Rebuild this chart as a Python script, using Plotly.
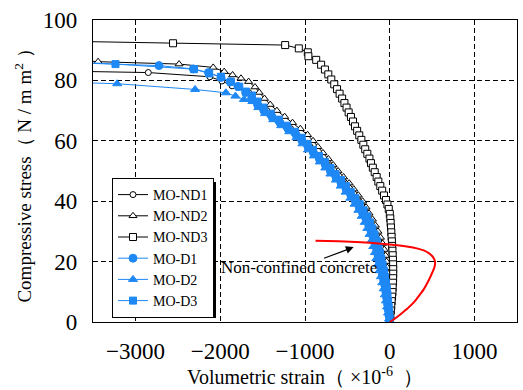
import plotly.graph_objects as go

# ---------------- data (volumetric strain x1e-6, compressive stress N/mm2) ----------------
nd1_x = [-3700, -2848, -2122, -1980, -1860, -1665, -1560, -1450, -1315, -1170, -1045, -940, -840,
         -735, -640, -550, -465, -380, -315, -255, -205, -170, -140, -115, -90, -65, -45, -25, -12, -5, 0]
nd1_y = [83.0, 82.6, 81.2, 79.8, 78.2, 76, 73, 70, 67, 64, 61, 58, 55,
         52, 49, 46, 43, 40, 37, 34, 31, 28, 25, 22, 19, 16, 13, 10, 7, 4, 0]

nd2_x = [-3700, -3440, -2485, -2083, -1953, -1854, -1755, -1665, -1590, -1540, -1478, -1410, -1332,
         -1240, -1147, -1055, -970, -905, -848, -788, -725, -668, -610, -545, -480, -425, -372, -320,
         -280, -245, -205, -170, -140, -110, -85, -65, -50, -38, -28, -20, -14, -9, -5, -2, 0, 2, 2, 0]
nd2_y = [86.7, 86.2, 85.4, 84.3, 82.9, 81.8, 80.7, 79.6, 77.8, 76, 74, 72, 70,
         68, 66, 64, 62, 60, 58, 56, 54, 52, 50, 48, 46, 44, 42, 40,
         38, 36, 34, 32, 30, 28, 26, 24, 22, 20, 18, 16, 14, 12, 10, 8, 6, 4, 2, 0]

nd3_x = [-3700, -2556, -1234, -1073, -967, -960, -868, -810, -765, -725, -690, -655, -622, -592,
         -562, -535, -510, -485, -458, -434, -410, -385, -360, -335, -312, -290, -265, -240, -222,
         -200, -178, -155, -135, -112, -90, -68, -45, -28, -12, 0, 6, 10, 14, 18, 21, 25, 28, 31,
         34, 37, 39, 40, 40, 39, 37, 34, 31, 27, 22, 17, 12, 7, 2, 0]
nd3_y = [92.9, 92.3, 91.7, 90.6, 89.3, 88.0, 86.8, 85.2, 83.6, 82.0, 80.3, 78.7, 77.1, 75.6,
         74.0, 72.5, 71.0, 69.4, 67.9, 66.4, 64.8, 63.3, 61.8, 60.3, 58.7, 57.2, 55.7, 54.1, 52.6,
         51.1, 49.6, 48.0, 46.5, 45.0, 43.5, 41.9, 40.4, 38.9, 37.4, 35.8, 34.3, 32.8, 31.3, 29.7,
         28.2, 26.7, 25.2, 23.6, 22.1, 20.6, 19.1, 17.5, 16.0, 14.5, 13.0, 11.4, 9.9, 8.4, 6.9,
         5.3, 3.8, 2.3, 0.8, 0]

d1_x = [-3700, -2722, -2316, -2138, -1990, -1880, -1790, -1700, -1630, -1560, -1485, -1390, -1295,
        -1200, -1105, -1035, -965, -900, -830, -760, -700, -635, -575, -515, -460, -405, -360, -320,
        -280, -248, -220, -195, -175, -155, -138, -122, -105, -88, -73, -58, -47, -37, -27, -18, -9, 0]
d1_y = [85.8, 84.9, 83.8, 82.6, 81.0, 79.5, 78.0, 76, 74, 72, 70, 68, 66,
        64, 62, 60, 58, 56, 54, 52, 50, 48, 46, 44, 42, 40, 38, 36,
        34, 32, 30, 28, 26, 24, 22, 20, 18, 16, 14, 12, 10, 8, 6, 4, 2, 0]

d2_x = [-3700, -3215, -2296, -1933, -1820, -1720, -1620, -1550, -1470, -1375, -1280, -1185, -1100,
        -1030, -965, -895, -825, -760, -700, -635, -578, -520, -465, -415, -370, -330, -295, -265,
        -238, -215, -195, -175, -158, -140, -122, -105, -88, -72, -58, -45, -32, -20, -8, 0]
d2_y = [79.3, 78.9, 77.0, 75.9, 74.8, 73.7, 73, 71, 69, 67, 65, 63, 61,
        59, 57, 55, 53, 51, 49, 47, 45, 43, 41, 39, 37, 35, 33, 31,
        29, 27, 25, 23, 21, 19, 17, 15, 13, 11, 9, 7, 5, 3, 1, 0]

d3_x = [-3700, -3235, -2308, -2130, -1992, -1874, -1775, -1696, -1625, -1560, -1490, -1405, -1310,
        -1215, -1120, -1040, -970, -905, -835, -765, -700, -640, -575, -515, -460, -405, -355, -310,
        -270, -235, -205, -180, -155, -135, -115, -100, -85, -70, -57, -45, -35, -27, -20, -13, -7, -2, 0]
d3_y = [86.0, 85.4, 83.7, 82.3, 81.2, 79.6, 77.9, 76.3, 75, 73, 71, 69, 67,
        65, 63, 61, 59, 57, 55, 53, 51, 49, 47, 45, 43, 41, 39, 37,
        35, 33, 31, 29, 27, 25, 23, 21, 19, 17, 15, 13, 11, 9, 7, 5, 3, 1, 0]

nc_x = [-876, -600, -400, -200, 0, 200, 330, 400, 460, 510, 533, 528, 500, 450, 400, 355, 280, 197, 120, 50, 0]
nc_y = [26.9, 26.7, 26.5, 26.2, 25.7, 25.0, 24.3, 23.7, 22.8, 21.5, 20.0, 18.3, 16.3, 13.3, 10.8, 9.1, 6.4, 4.2, 2.4, 0.9, 0]

x_ticks = [-3000, -2000, -1000, 0, 1000]
y_ticks = [0, 20, 40, 60, 80, 100]

BLUE = "#1e88f5"
SERIF = "Liberation Serif, Times New Roman, serif"

fig = go.Figure()

def add(name, xs, ys, color, symbol, size, fill):
    fig.add_trace(go.Scatter(
        x=xs, y=ys, name=name, mode="lines+markers",
        line=dict(color=color, width=1),
        marker=dict(symbol=symbol, size=size, color=fill,
                    line=dict(color=color, width=1)),
    ))

add("MO-ND1", nd1_x, nd1_y, "black", "circle", 6, "white")
add("MO-ND2", nd2_x, nd2_y, "black", "triangle-up", 7, "white")
add("MO-ND3", nd3_x, nd3_y, "black", "square", 7, "white")
add("MO-D1", d1_x, d1_y, BLUE, "circle", 8, BLUE)
add("MO-D2", d2_x, d2_y, BLUE, "triangle-up", 8, BLUE)
add("MO-D3", d3_x, d3_y, BLUE, "square", 7, BLUE)

fig.add_trace(go.Scatter(x=nc_x, y=nc_y, mode="lines", showlegend=False,
                         line=dict(color="red", width=2, shape="spline")))

axis_common = dict(
    showline=True, mirror=True, linecolor="black", linewidth=1.2,
    showgrid=True, gridcolor="black", griddash="5px,3px", gridwidth=1,
    zeroline=False, ticks="", tickfont=dict(family=SERIF, size=23, color="black"),
)

fig.update_xaxes(range=[-3500, 1500], tickvals=x_ticks, ticklabelstandoff=8,
                 title=dict(text="Volumetric strain（ ×10<sup>-6</sup>  ）",
                            font=dict(family=SERIF, size=20, color="black"), standoff=4),
                 **axis_common)
fig.update_yaxes(range=[0, 100], tickvals=y_ticks, ticklabelstandoff=10,
                 title=dict(text="Compressive stress（ N / m m<sup>2</sup> ）",
                            font=dict(family=SERIF, size=19, color="black"), standoff=6),
                 **axis_common)

fig.add_annotation(x=-1065, y=18.2, text="Non-confined concrete", showarrow=False,
                   font=dict(family=SERIF, size=17, color="black"))
fig.add_annotation(x=-426, y=24.8, ax=-793, ay=20.9, axref="x", ayref="y", text="",
                   showarrow=True, arrowhead=2, arrowsize=1.3, arrowwidth=1.2, arrowcolor="black")

# legend drop shadow (pixel geometry -> paper fractions of the 424x302 plot area)
PL, PT, PW, PH = 93, 20, 424, 302
def px_x(p):
    return (p - PL) / PW
def px_y(p):
    return (PT + PH - p) / PH
fig.add_shape(type="rect", xref="paper", yref="paper",
              x0=px_x(116), x1=px_x(216), y0=px_y(182), y1=px_y(318),
              fillcolor="black", line=dict(width=0), layer="above")

fig.update_layout(
    width=523, height=390,
    margin=dict(l=93, r=6, t=20, b=68),
    paper_bgcolor="white", plot_bgcolor="white",
    font=dict(family=SERIF, color="black"),
    showlegend=True,
    legend=dict(x=px_x(112), y=px_y(178), xanchor="left", yanchor="top",
                bgcolor="white", bordercolor="black", borderwidth=1,
                font=dict(family=SERIF, size=14, color="black"),
                tracegroupgap=0),
)

fig.write_html("out.html", config={"displayModeBar": False},
               post_script="document.body.style.margin='0';document.body.style.overflow='hidden';")
